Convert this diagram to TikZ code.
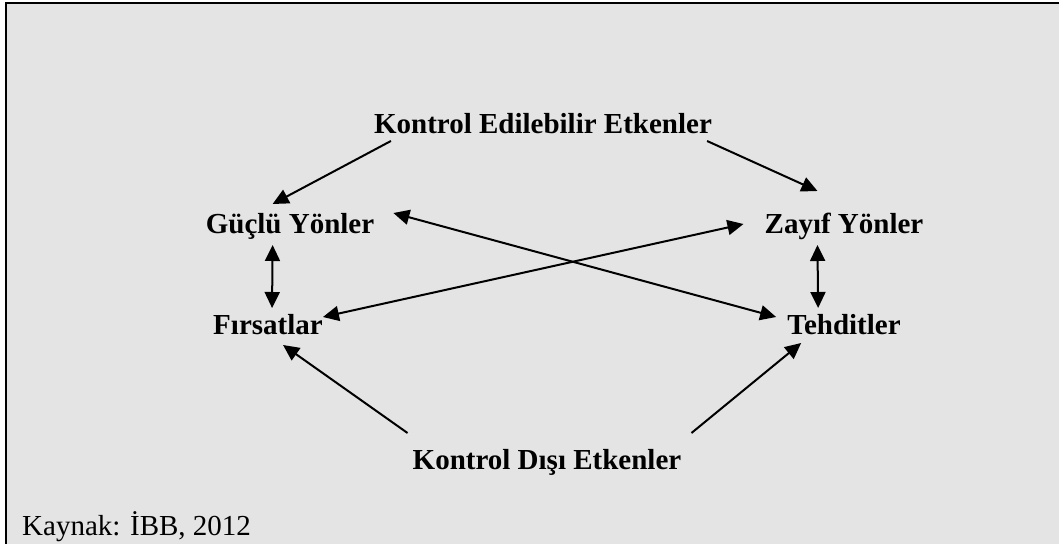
\documentclass[tikz,border=0pt]{standalone}
\usepackage{fontspec}
\setmainfont{Liberation Serif}
\usetikzlibrary{arrows.meta,calc}
\definecolor{bgray}{HTML}{E4E4E4}
\begin{document}
\begin{tikzpicture}[x=1pt,y=-1pt,
  lbl/.style={font=\fontsize{29}{34}\selectfont\bfseries, anchor=base, inner sep=0pt},
  src/.style={font=\fontsize{29}{34}\selectfont, anchor=base west, inner sep=0pt},
  arr/.style={line width=2pt, -{Triangle[length=16pt,width=15pt]}},
  darr/.style={line width=2pt, {Triangle[length=16pt,width=15pt]}-{Triangle[length=16pt,width=15pt]}}]
\useasboundingbox (0,0) rectangle (1059,544);
\fill[bgray] (5,2) rectangle (1059,544);
\draw[line width=2.5pt] (6,544) -- (6,3) -- (1059,3);

\node[lbl] (kee) at (543,133) {Kontrol Edilebilir Etkenler};
\node[lbl] (gy) at (290,233) {Güçlü Yönler};
\node[lbl] (fi) at (268,334) {Fırsatlar};
\node[lbl] (zy) at (844,233) {Zayıf Yönler};
\node[lbl] (te) at (844,334) {Tehditler};
\node[lbl] (kde) at (547,469) {Kontrol Dışı Etkenler};
\node[src] (kay) at (22,535) {Kaynak: İBB, 2012};

\draw[arr] ($(kee.base west)+(17,8)$) -- ($(gy.base west)+(67,-29)$);
\draw[arr] ($(kee.base east)+(-5,8)$) -- ($(zy.base west)+(53,-42)$);
\draw[darr] ($(gy.base east)+(19,-20)$) -- ($(te.base west)+(-11,-17)$);
\draw[darr] ($(fi.base east)+(0,-17)$) -- ($(zy.base west)+(-21,-9)$);
\draw[darr] ($(gy.base west)+(67,12)$) -- ($(fi.base west)+(59,-26)$);
\draw[darr] ($(zy.base west)+(53,12)$) -- ($(te.base west)+(31,-26)$);
\draw[arr] ($(kde.base west)+(-5,-36)$) -- ($(fi.base west)+(70,11)$);
\draw[arr] ($(kde.base east)+(10,-36)$) -- ($(te.base west)+(14,9)$);
\end{tikzpicture}
\end{document}
